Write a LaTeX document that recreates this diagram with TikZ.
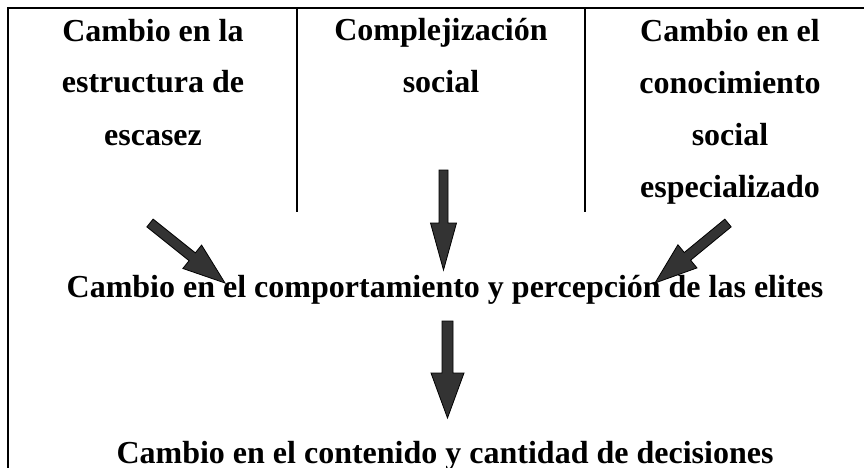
\documentclass[tikz,border=0pt]{standalone}
\usepackage{fontspec}
\setmainfont{Liberation Serif}
\usepackage{tikz}
\usetikzlibrary{calc,positioning}
\definecolor{arrowgray}{HTML}{333333}

\newcommand{\blockarrow}[5]{%
  \coordinate (h) at ($(#2)!#5!(#1)$);
  \filldraw[blk] ($(#1)!#3!90:(#2)$) -- ($(h)!#3!90:(#2)$) -- ($(h)!#4!90:(#2)$) -- (#2)
    -- ($(h)!#4!-90:(#2)$) -- ($(h)!#3!-90:(#2)$) -- ($(#1)!#3!-90:(#2)$) -- cycle;}

\begin{document}
\begin{tikzpicture}[x=1pt, y=-1pt,
  lbl/.style={font=\bfseries\fontsize{32}{52}\selectfont, align=center, inner sep=0pt, anchor=base},
  blk/.style={fill=arrowgray, draw=black, line width=0.8pt},
  rule/.style={line width=2pt}]
  \useasboundingbox (0,0) rectangle (864,468);
  % frame and columns
  \coordinate (tl) at (8,8);
  \coordinate (tr) at (864,8);
  \coordinate (bl) at (8,468);
  \coordinate (cola) at (297,8);
  \coordinate (colaend) at (297,212);
  \coordinate (colb) at (585,8);
  \coordinate (colbend) at (585,212);
  \draw [rule] (bl) -- (tl) -- (tr);
  \draw [rule] (cola) -- (colaend);
  \draw [rule] (colb) -- (colbend);
  % texts (base = last line)
  \node [lbl] (escasez) at (153,145) {Cambio en la\\estructura de\\escasez};
  \node [lbl] (social) at (441,93) {Complejización\\social};
  \node [lbl] (conocim) at (730,197) {Cambio en el\\conocimiento\\social\\especializado};
  \node [lbl] (elites) at (445,297) {Cambio en el comportamiento y percepción de las elites};
  \node [lbl] (decis) at (445,463) {Cambio en el contenido y cantidad de decisiones};
  % arrows
  \coordinate (escasezout) at (150,223);
  \coordinate (escasezin) at (225,283);
  \coordinate (socialout) at (443.5,170);
  \coordinate (socialin) at (443.5,270);
  \coordinate (conocout) at (728,223);
  \coordinate (conocin) at (655,283);
  \coordinate (elitesout) at (447.5,321);
  \coordinate (elitesin) at (447.5,418);
  \blockarrow{escasezout}{escasezin}{5pt}{15pt}{42pt}
  \blockarrow{socialout}{socialin}{4.5pt}{13pt}{47pt}
  \blockarrow{conocout}{conocin}{5pt}{15pt}{42pt}
  \blockarrow{elitesout}{elitesin}{5.5pt}{16.5pt}{45pt}
\end{tikzpicture}
\end{document}
